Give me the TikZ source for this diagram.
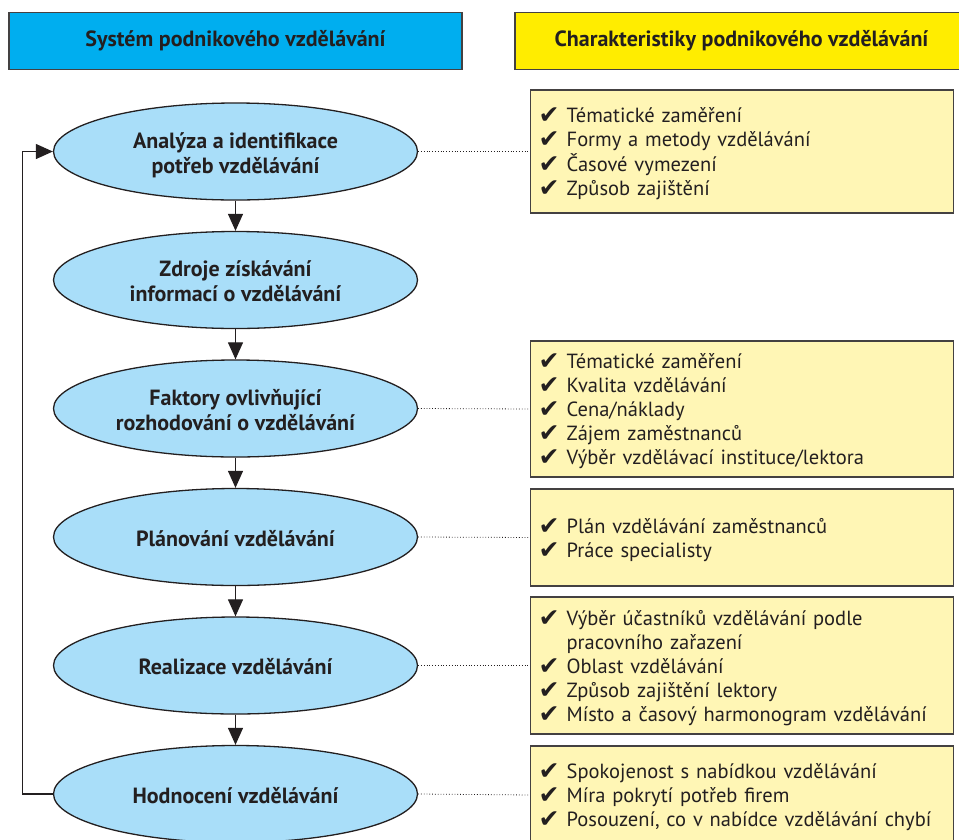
\documentclass[tikz,border=0pt]{standalone}
\usepackage{fontspec}
\setmainfont{PT Sans}
\newfontfamily\symf{DejaVu Sans}
\usetikzlibrary{shapes.geometric,arrows.meta}
\definecolor{hdrblue}{HTML}{00AEEF}
\definecolor{hdryellow}{HTML}{FFED00}
\definecolor{ellfill}{HTML}{A9DEF9}
\definecolor{boxfill}{HTML}{FFF6B5}
\definecolor{ink}{HTML}{231F20}
\newcommand{\ck}{\makebox[28pt][l]{\raisebox{-1pt}{\symf\fontsize{25}{24}\selectfont\char"2714}}}
\newcommand{\ckind}{\hspace*{28pt}}
\newcommand{\lowl}[1]{\raisebox{-3pt}[\height][\depth]{\begin{tabular}{@{}l@{}}#1\end{tabular}}}
\newcommand{\lowc}[1]{\raisebox{-4pt}[\height][\depth]{\begin{tabular}{@{}c@{}}#1\end{tabular}}}
\begin{document}
\begin{tikzpicture}[x=1pt,y=-1pt,
  every node/.style={text=ink},
  hdr/.style={draw=ink!85, line width=1.5pt, minimum height=57pt, minimum width=453pt, font=\bfseries\fontsize{22}{24}\selectfont, inner sep=0pt},
  proc/.style={ellipse, draw=ink, line width=1.3pt, fill=ellfill, minimum width=364pt, minimum height=97pt, inner sep=0pt, align=center, font=\bfseries\fontsize{22}{25}\selectfont},
  charbox/.style={draw=ink!85, line width=1.3pt, fill=boxfill, minimum width=423pt, anchor=west, inner xsep=8pt, inner ysep=0pt, text width=407pt, align=left, font=\fontsize{20.5}{24}\selectfont},
  flow/.style={line width=1.2pt, draw=ink, -{Triangle[length=17pt,width=15pt]}},
  link/.style={dotted, line width=0.8pt, draw=ink},
]
\useasboundingbox (0,0) rectangle (959,839);

\node[hdr, fill=hdrblue] (h1) at (235.5,41) {Systém podnikového vzdělávání};
\node[hdr, fill=hdryellow] (h2) at (741.5,41) {Charakteristiky podnikového vzdělávání};

\node[proc] (e1) at (235.5,151.5) {\lowc{Analýza a identifikace\\potřeb vzdělávání}};
\node[proc] (e2) at (235.5,280) {\lowc{Zdroje získávání\\informací o vzdělávání}};
\node[proc] (e3) at (235.5,408.5) {\lowc{Faktory ovlivňující\\rozhodování o vzdělávání}};
\node[proc] (e4) at (235.5,537) {\lowc{Plánování vzdělávání}};
\node[proc] (e5) at (235.5,665.5) {\lowc{Realizace vzdělávání}};
\node[proc] (e6) at (235.5,794) {\lowc{Hodnocení vzdělávání}};

\node[charbox, minimum height=123pt] (b1) at (530,151.5) {\lowl{\ck Tématické zaměření\\\ck Formy a metody vzdělávání\\\ck Časové vymezení\\\ck Způsob zajištění}};
\node[charbox, minimum height=136pt] (b3) at (530,409) {\lowl{\ck Tématické zaměření\\\ck Kvalita vzdělávání\\\ck Cena/náklady\\\ck Zájem zaměstnanců\\\ck Výběr vzdělávací instituce/lektora}};
\node[charbox, minimum height=97pt] (b4) at (530,537.5) {\lowl{\ck Plán vzdělávání zaměstnanců\\\ck Práce specialisty}};
\node[charbox, minimum height=137pt] (b5) at (530,665.5) {\lowl{\ck Výběr účastníků vzdělávání podle\\\ckind pracovního zařazení\\\ck Oblast vzdělávání\\\ck Způsob zajištění lektory\\\ck Místo a časový harmonogram vzdělávání}};
\node[charbox, minimum height=98pt] (b6) at (530,795) {\lowl{\ck Spokojenost s nabídkou vzdělávání\\\ck Míra pokrytí potřeb firem\\\ck Posouzení, co v nabídce vzdělávání chybí}};

\draw[flow] (e1) -- (e2);
\draw[flow] (e2) -- (e3);
\draw[flow] (e3) -- (e4);
\draw[flow] (e4) -- (e5);
\draw[flow] (e5) -- (e6);
\draw[flow] (e6.west) -- ++(-30,0) |- (e1.west);

\draw[link] (e1.east) -- (b1.west);
\draw[link] (e3.east) -- (b3.west);
\draw[link] (e4.east) -- (b4.west);
\draw[link] (e5.east) -- (b5.west);
\draw[link] (e6.east) -- (b6.west);
\end{tikzpicture}
\end{document}
